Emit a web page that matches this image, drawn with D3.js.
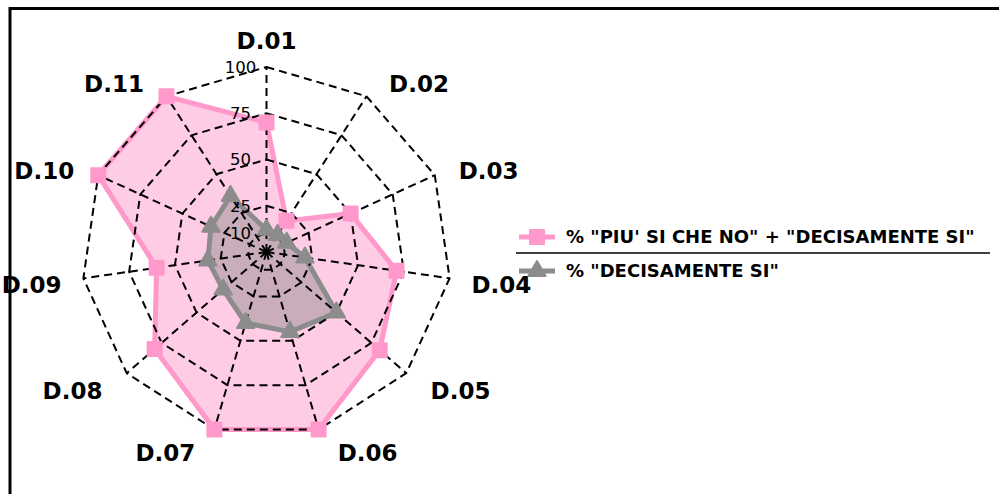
<!DOCTYPE html>
<html><head><meta charset="utf-8">
<script src="https://cdn.jsdelivr.net/npm/d3@7"></script>
<style>html,body{margin:0;padding:0;background:#fff;}svg{display:block;font-family:"DejaVu Sans",sans-serif;}</style>
</head><body>
<svg id="c" width="999" height="494"></svg>
<script>
const categories = ["D.01","D.02","D.03","D.04","D.05","D.06","D.07","D.08","D.09","D.10","D.11"];
const seriesNames = ['% "PIU\' SI CHE NO" + "DECISAMENTE SI"', '% "DECISAMENTE SI"'];
const piuSiCheNo = [70, 20, 50, 71, 81, 100, 100, 80, 60, 100, 100];
const decisamenteSi = [12, 11, 12, 21, 50, 45, 40, 31, 32, 33, 36];
const tickValues = [10, 25, 50, 75, 100];

const svg = d3.select("#c");
const cx = 266.5, cy = 252;
const r = d3.scaleLinear().domain([0, 100]).range([0, 185]);
const angle = d3.scaleLinear().domain([0, categories.length]).range([0, 2 * Math.PI]);
const pt = (i, v) => [cx + r(v) * Math.sin(angle(i)), cy - r(v) * Math.cos(angle(i))];

// frame
svg.append("line").attr("x1", 9).attr("x2", 999).attr("y1", 8.5).attr("y2", 8.5).attr("stroke", "#000").attr("stroke-width", 3);
svg.append("line").attr("x1", 10).attr("x2", 10).attr("y1", 7).attr("y2", 494).attr("stroke", "#000").attr("stroke-width", 3);

const series = [
  {name: seriesNames[0], values: piuSiCheNo, stroke: "#ff99cc", fill: "rgba(255,153,204,0.5)", marker: "square"},
  {name: seriesNames[1], values: decisamenteSi, stroke: "#8c8c8c", fill: "rgba(136,136,136,0.45)", marker: "triangle"}
];
const lineGen = d3.line().curve(d3.curveLinearClosed);

const gFill = svg.append("g");
series.forEach(s => {
  const pts = s.values.map((v, i) => pt(i, v));
  gFill.append("path").attr("d", lineGen(pts)).attr("fill", s.fill).attr("stroke", "none");
  gFill.append("path").attr("d", lineGen(pts)).attr("fill", "none").attr("stroke", s.stroke)
    .attr("stroke-width", 5).attr("stroke-linejoin", "round");
});

// grid
const gGrid = svg.append("g").attr("fill", "none").attr("stroke", "#000").attr("stroke-width", 2).attr("stroke-dasharray", "8,5");
tickValues.forEach(t => {
  gGrid.append("path").attr("d", lineGen(categories.map((c, i) => pt(i, t))));
});
categories.forEach((c, i) => {
  const p = pt(i, 100);
  gGrid.append("line").attr("x1", cx).attr("y1", cy).attr("x2", p[0]).attr("y2", p[1]);
});

// tick labels
svg.append("g").selectAll("text").data(tickValues).join("text")
  .attr("x", cx - 26).attr("y", d => cy - r(d))
  .attr("dy", "0.36em").attr("text-anchor", "middle")
  .attr("font-size", 16.5).attr("fill", "#000").text(d => d);

// markers
const sq = d3.symbol().type(d3.symbolSquare).size(196);
const tri = d3.symbol().type(d3.symbolTriangle).size(130);
series.forEach(s => {
  const g = svg.append("g");
  s.values.forEach((v, i) => {
    const p = pt(i, v);
    g.append("path").attr("d", s.marker === "square" ? sq() : tri())
      .attr("transform", `translate(${p[0]},${p[1]})`)
      .attr("fill", s.stroke).attr("stroke", s.stroke).attr("stroke-width", 2).attr("stroke-linejoin", "round");
  });
});

// category labels
const R = 205;
svg.append("g").selectAll("text").data(categories).join("text")
  .attr("dy", "0.36em").attr("font-size", 23).attr("font-weight", "bold").attr("fill", "#000")
  .attr("text-anchor", "middle").text(d => d)
  .each(function(d, i) {
    const a = angle(i), s = Math.sin(a), c = Math.cos(a);
    const x = cx + R * s, y = cy - R * c;
    const el = d3.select(this);
    if (Math.abs(s) < 0.05) {
      el.attr("x", x).attr("y", y - 6);
    } else {
      const hw = this.getComputedTextLength() / 2;
      el.attr("x", x + Math.sign(s) * (hw + 14 * Math.abs(c))).attr("y", y + 4);
    }
  });

// legend
const lg = svg.append("g");
series.forEach((s, k) => {
  const y = 237 + k * 34;
  lg.append("line").attr("x1", 519).attr("x2", 555).attr("y1", y).attr("y2", y)
    .attr("stroke", s.stroke).attr("stroke-width", 5);
  lg.append("path").attr("d", s.marker === "square" ? sq() : tri())
    .attr("transform", `translate(537,${y})`).attr("fill", s.stroke).attr("stroke", s.stroke).attr("stroke-width", 2).attr("stroke-linejoin", "round");
  lg.append("text").attr("x", 566).attr("y", y).attr("dy", "0.36em")
    .attr("font-size", 18).attr("font-weight", "bold").attr("fill", "#000").text(s.name);
});
lg.append("line").attr("x1", 516).attr("x2", 990).attr("y1", 253).attr("y2", 253).attr("stroke", "#000").attr("stroke-width", 1.5);
</script>
</body></html>
